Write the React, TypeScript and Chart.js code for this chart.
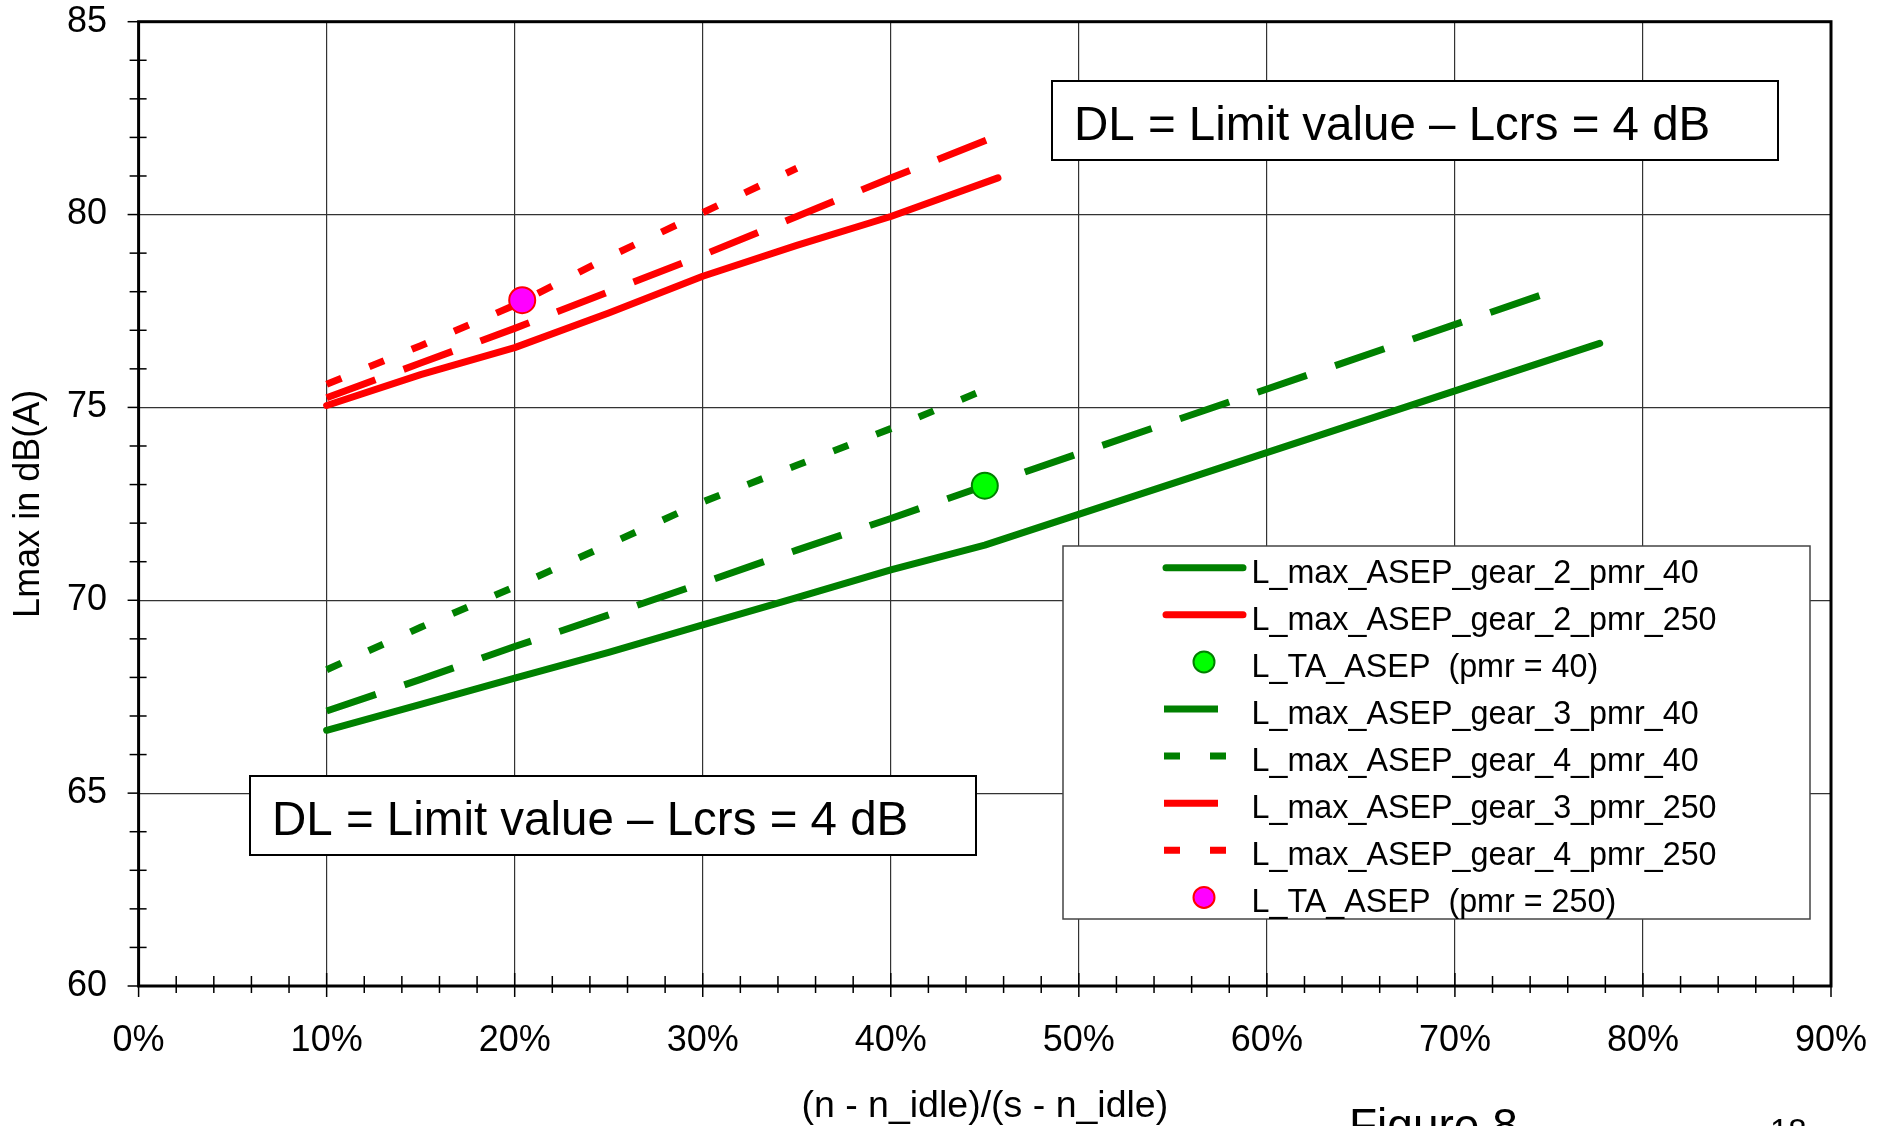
import React, { useEffect, useRef } from 'react';
import { Chart, registerables } from 'chart.js';

Chart.register(...registerables);

// ---------------- data ----------------
const gear2Pmr40X = [0.10, 0.15, 0.20, 0.25, 0.30, 0.35, 0.40, 0.45, 0.777];
const gear2Pmr40Y = [66.63, 67.3, 67.98, 68.65, 69.36, 70.07, 70.79, 71.43, 76.66];

const gear2Pmr250X = [0.10, 0.15, 0.20, 0.25, 0.30, 0.35, 0.40, 0.457];
const gear2Pmr250Y = [75.05, 75.85, 76.55, 77.45, 78.4, 79.2, 79.95, 80.95];

const taAsepPmr40X = [0.45];
const taAsepPmr40Y = [72.97];

const gear3Pmr40X = [0.10, 0.15, 0.20, 0.25, 0.30, 0.35, 0.40, 0.45, 0.751];
const gear3Pmr40Y = [67.13, 67.95, 68.8, 69.62, 70.45, 71.3, 72.12, 72.97, 78.0];

const gear4Pmr40X = [0.10, 0.15, 0.20, 0.25, 0.30, 0.35, 0.40, 0.447];
const gear4Pmr40Y = [68.2, 69.3, 70.35, 71.45, 72.55, 73.5, 74.45, 75.4];

const gear3Pmr250X = [0.10, 0.15, 0.20, 0.25, 0.30, 0.35, 0.40, 0.452];
const gear3Pmr250Y = [75.25, 76.15, 77.05, 78.0, 78.95, 79.95, 80.95, 81.95];

const gear4Pmr250X = [0.10, 0.15, 0.20, 0.25, 0.30, 0.35];
const gear4Pmr250Y = [75.6, 76.6, 77.65, 78.9, 80.05, 81.2];

const taAsepPmr250X = [0.204];
const taAsepPmr250Y = [77.78];

const seriesLabels = [
  'L_max_ASEP_gear_2_pmr_40',
  'L_max_ASEP_gear_2_pmr_250',
  'L_TA_ASEP  (pmr = 40)',
  'L_max_ASEP_gear_3_pmr_40',
  'L_max_ASEP_gear_4_pmr_40',
  'L_max_ASEP_gear_3_pmr_250',
  'L_max_ASEP_gear_4_pmr_250',
  'L_TA_ASEP  (pmr = 250)',
];

const xMin = 0;
const xMax = 0.9;
const xStep = 0.1;
const xMinorStep = 0.02;
const yMin = 60;
const yMax = 85;
const yStep = 5;
const yMinorStep = 1;

const annotationText = 'DL = Limit value \u2013 Lcrs = 4 dB';
const xAxisTitle = '(n - n_idle)/(s - n_idle)';
const yAxisTitle = 'Lmax in dB(A)';
const figureCaption = 'Figure 8';
const pageNumber = '18';

// ---------------- styles / layout ----------------
const FONT = '"Liberation Sans", Arial, sans-serif';
const GREEN = '#008000';
const RED = '#FF0000';
const LW = 7;
const DASH = [52, 30];
const DOT = [16, 30];

const pts = (xs: number[], ys: number[]) => xs.map((x, i) => ({ x, y: ys[i] }));

function stretchedText(ctx: CanvasRenderingContext2D, text: string, x: number, y: number, size: number, sx: number, align: 'left' | 'center' = 'left') {
  ctx.save();
  ctx.font = `${size}px ${FONT}`;
  ctx.textAlign = 'left';
  ctx.textBaseline = 'alphabetic';
  ctx.fillStyle = '#000';
  const w = ctx.measureText(text).width * sx;
  const x0 = align === 'center' ? x - w / 2 : x;
  ctx.translate(x0, y);
  ctx.scale(sx, 1);
  ctx.fillText(text, 0, 0);
  ctx.restore();
}

const annotationBoxes = [
  { x: 1052, y: 81, w: 726, h: 79 },
  { x: 250, y: 776, w: 726, h: 79 },
];
const legendBox = { x: 1063, y: 546, w: 747, h: 373 };
const legendRowTop = 567.7;
const legendRowGap = 47.1;

const overlayPlugin = {
  id: 'overlay',
  afterDraw(chart: any) {
    const ctx: CanvasRenderingContext2D = chart.ctx;
    const { left, right, top, bottom } = chart.chartArea;
    const xs = chart.scales.x;
    const ys = chart.scales.y;
    ctx.save();

    // tick marks
    ctx.strokeStyle = '#000';
    ctx.lineWidth = 1.5;
    const nx = Math.round((xMax - xMin) / xMinorStep);
    for (let i = 0; i <= nx; i++) {
      const v = xMin + i * xMinorStep;
      const px = xs.getPixelForValue(v);
      const major = i % Math.round(xStep / xMinorStep) === 0;
      ctx.beginPath();
      ctx.moveTo(px, bottom - (major ? 13 : 10));
      ctx.lineTo(px, bottom + (major ? 11 : 7));
      ctx.stroke();
    }
    for (let v = yMin; v <= yMax; v += yMinorStep) {
      const py = ys.getPixelForValue(v);
      const major = v % yStep === 0;
      ctx.beginPath();
      ctx.moveTo(left - (major ? 11 : 9), py);
      ctx.lineTo(left + (major ? 0 : 8), py);
      ctx.stroke();
    }

    // frame
    ctx.lineWidth = 3;
    ctx.strokeRect(left, top, right - left, bottom - top);

    // annotation boxes
    for (const b of annotationBoxes) {
      ctx.fillStyle = '#fff';
      ctx.fillRect(b.x, b.y, b.w, b.h);
      ctx.strokeStyle = '#000';
      ctx.lineWidth = 2;
      ctx.strokeRect(b.x, b.y, b.w, b.h);
      stretchedText(ctx, annotationText, b.x + 22, b.y + 58.5, 47.5, 1.0);
    }

    // legend
    ctx.fillStyle = '#fff';
    ctx.fillRect(legendBox.x, legendBox.y, legendBox.w, legendBox.h);
    ctx.strokeStyle = '#444';
    ctx.lineWidth = 1.5;
    ctx.strokeRect(legendBox.x, legendBox.y, legendBox.w, legendBox.h);
    chart.data.datasets.forEach((ds: any, i: number) => {
      const cy = legendRowTop + i * legendRowGap;
      ctx.save();
      if (ds.showLine === false) {
        ctx.beginPath();
        ctx.arc(1204, cy, 10.5, 0, Math.PI * 2);
        ctx.fillStyle = ds.pointBackgroundColor;
        ctx.fill();
        ctx.lineWidth = 2;
        ctx.strokeStyle = ds.pointBorderColor;
        ctx.stroke();
      } else {
        ctx.strokeStyle = ds.borderColor;
        ctx.lineWidth = LW;
        const dashed = ds.borderDash && ds.borderDash.length > 0;
        ctx.lineCap = dashed ? 'butt' : 'round';
        ctx.setLineDash(dashed ? (ds.borderDash === DASH ? [54, 30] : [16, 30]) : []);
        ctx.beginPath();
        ctx.moveTo(dashed ? 1164 : 1166, cy);
        ctx.lineTo(dashed ? 1248 : 1243, cy);
        ctx.stroke();
      }
      ctx.restore();
      stretchedText(ctx, ds.label, 1251.5, cy + 15, 34, 0.95);
    });

    // axis titles
    stretchedText(ctx, xAxisTitle, (left + right) / 2, 1117, 37.5, 1.0, 'center');
    ctx.save();
    ctx.translate(38.5, (top + bottom) / 2);
    ctx.rotate(-Math.PI / 2);
    stretchedText(ctx, yAxisTitle, 0, 0, 36, 1.0, 'center');
    ctx.restore();

    // caption and page number (cut by the page edge)
    stretchedText(ctx, figureCaption, 1349, 1141, 46, 1.0);
    stretchedText(ctx, pageNumber, 1770, 1142, 33, 1.0);

    ctx.restore();
  },
};

export default function App() {
  const ref = useRef<HTMLCanvasElement | null>(null);

  useEffect(() => {
    if (!ref.current) return;
    const lineDs = (label: string, xs: number[], ys: number[], color: string, dash: number[]) => ({
      label,
      data: pts(xs, ys),
      borderColor: color,
      backgroundColor: color,
      borderWidth: LW,
      borderDash: dash,
      borderCapStyle: dash.length ? 'butt' : 'round',
      borderJoinStyle: 'round',
      pointRadius: 0,
      pointHoverRadius: 0,
      tension: 0,
      fill: false,
    });
    const pointDs = (label: string, xs: number[], ys: number[], fillC: string, borderC: string) => ({
      label,
      data: pts(xs, ys),
      showLine: false,
      pointRadius: 13,
      pointHoverRadius: 13,
      pointBorderWidth: 2,
      pointBackgroundColor: fillC,
      pointBorderColor: borderC,
      borderColor: borderC,
      backgroundColor: fillC,
    });

    const chart = new Chart(ref.current, {
      type: 'line',
      data: {
        datasets: [
          lineDs(seriesLabels[0], gear2Pmr40X, gear2Pmr40Y, GREEN, []),
          lineDs(seriesLabels[1], gear2Pmr250X, gear2Pmr250Y, RED, []),
          pointDs(seriesLabels[2], taAsepPmr40X, taAsepPmr40Y, '#00FF00', GREEN),
          lineDs(seriesLabels[3], gear3Pmr40X, gear3Pmr40Y, GREEN, DASH),
          lineDs(seriesLabels[4], gear4Pmr40X, gear4Pmr40Y, GREEN, DOT),
          lineDs(seriesLabels[5], gear3Pmr250X, gear3Pmr250Y, RED, DASH),
          lineDs(seriesLabels[6], gear4Pmr250X, gear4Pmr250Y, RED, DOT),
          pointDs(seriesLabels[7], taAsepPmr250X, taAsepPmr250Y, '#FF00FF', RED),
        ] as any,
      },
      options: {
        animation: false,
        responsive: false,
        devicePixelRatio: 1,
        events: [],
        layout: { padding: { left: 0, top: 21.7, right: 59, bottom: 0 } },
        plugins: { legend: { display: false }, tooltip: { enabled: false } },
        scales: {
          x: {
            type: 'linear',
            min: xMin,
            max: xMax,
            afterFit: (s: any) => { s.height = 140; s.paddingLeft = 0; s.paddingRight = 0; },
            border: { display: false },
            grid: { color: '#333', lineWidth: 1.2, drawTicks: false },
            ticks: {
              stepSize: xStep,
              padding: 33,
              color: '#000',
              font: { family: FONT, size: 36 },
              callback: (v: any) => `${Math.round(Number(v) * 100)}%`,
            },
          },
          y: {
            type: 'linear',
            min: yMin,
            max: yMax,
            afterFit: (s: any) => { s.width = 138.6; s.paddingTop = 0; s.paddingBottom = 0; },
            border: { display: false },
            grid: { color: '#333', lineWidth: 1.2, drawTicks: false },
            ticks: {
              stepSize: yStep,
              padding: 31.6,
              color: '#000',
              font: { family: FONT, size: 36 },
            },
          },
        },
      } as any,
      plugins: [overlayPlugin],
    });
    return () => chart.destroy();
  }, []);

  return (
    <div style={{ position: 'absolute', left: 0, top: 0, width: 1890, height: 1126, background: '#fff', overflow: 'hidden' }}>
      <canvas ref={ref} width={1890} height={1126} style={{ display: 'block', width: 1890, height: 1126 }} />
    </div>
  );
}
